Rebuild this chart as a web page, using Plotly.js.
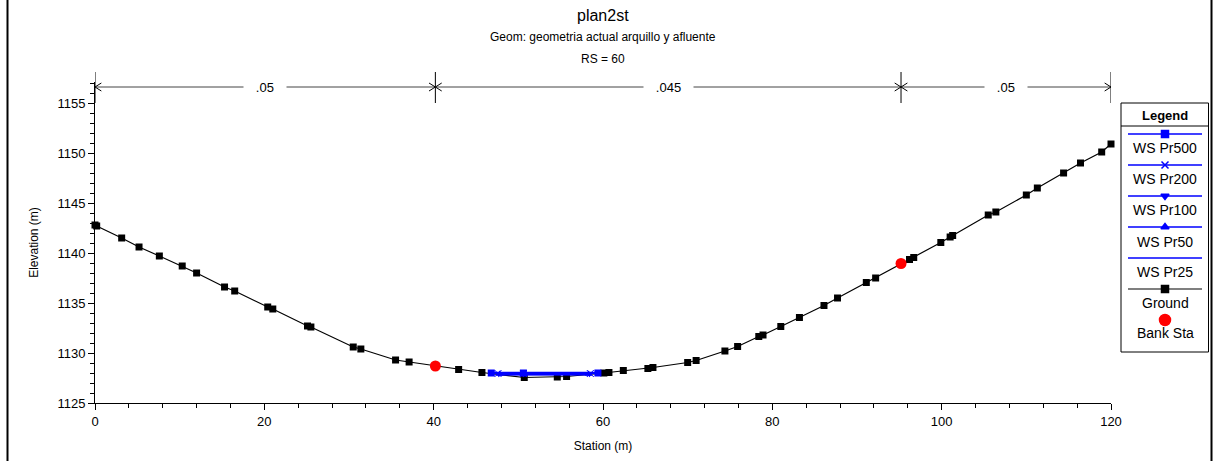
<!DOCTYPE html>
<html><head><meta charset="utf-8">
<script src="https://cdn.plot.ly/plotly-3.0.1.min.js"></script>
<style>html,body{margin:0;padding:0;background:#fff}</style>
</head><body><div id="chart" style="width:1216px;height:461px"></div>
<script>
// ---- data ----
const groundStation = [0, 0.2, 3.15, 5.2, 7.6, 10.3, 12.0, 15.3, 16.5, 20.4, 21.0, 25.1, 25.5, 30.5, 31.4, 35.5, 37.1, 40.2, 42.95, 45.7, 50.7, 54.6, 55.7, 60.1, 60.7, 62.4, 65.3, 65.9, 70.0, 71.0, 74.4, 75.9, 78.4, 78.9, 81.0, 83.2, 86.1, 87.7, 91.1, 92.2, 95.2, 96.2, 96.7, 99.9, 101.0, 101.3, 105.5, 106.4, 110.0, 111.3, 114.4, 116.4, 118.9, 120.0];
const groundElev = [1142.8, 1142.7, 1141.5, 1140.6, 1139.7, 1138.7, 1138.0, 1136.6, 1136.2, 1134.6, 1134.4, 1132.7, 1132.6, 1130.6, 1130.4, 1129.3, 1129.1, 1128.7, 1128.35, 1128.05, 1127.55, 1127.6, 1127.65, 1128.0, 1128.05, 1128.25, 1128.45, 1128.55, 1129.05, 1129.25, 1130.2, 1130.65, 1131.65, 1131.8, 1132.65, 1133.55, 1134.75, 1135.5, 1137.05, 1137.5, 1138.95, 1139.35, 1139.55, 1141.05, 1141.6, 1141.75, 1143.8, 1144.1, 1145.8, 1146.5, 1148.0, 1149.0, 1150.1, 1150.9];
const bankStation = [40.2, 95.2];
const bankElev = [1128.7, 1138.95];
const wsPr500Station = [46.8, 50.6, 59.4];
const wsPr500Elev = [1128.0, 1128.0, 1128.0];
const wsPr200Station = [47.6, 50.6, 58.5];
const wsPr200Elev = [1127.95, 1127.95, 1127.95];
const wsPr100Station = [47.7, 50.6, 58.4];
const wsPr100Elev = [1127.93, 1127.93, 1127.93];
const wsPr50Station = [47.8, 50.6, 58.3];
const wsPr50Elev = [1127.9, 1127.9, 1127.9];
const wsPr25Station = [47.9, 58.2];
const wsPr25Elev = [1127.88, 1127.88];
const nStations = [0, 40.2, 95.2, 120];
const nValues = ['.05', '.045', '.05'];
const xTickVals = [0, 20, 40, 60, 80, 100, 120];
const yTickVals = [1125, 1130, 1135, 1140, 1145, 1150, 1155];

// ---- geometry helpers (layout only) ----
const W = 1216, H = 461, ML = 95, MR = 3, MT = 82, MB = 58;
const PW = W - ML - MR, PH = H - MT - MB;
const px = p => (p - ML) / PW;          // pixel x -> paper
const py = p => (H - MB - p) / PH;      // pixel y -> paper
const BLUE = '#0000ff';
const FONT = 'Arial, "Liberation Sans", sans-serif';

const traces = [];
function ws(name, xs, ys, symbol) {
  traces.push({x: xs, y: ys, name: name, type: 'scatter', mode: symbol ? 'lines+markers' : 'lines',
    line: {color: BLUE, width: 2.5}, marker: {color: BLUE, size: 7, symbol: symbol || 'square'},
    cliponaxis: false, xaxis: 'x', yaxis: 'y', showlegend: false});
}
traces.push({x: groundStation, y: groundElev, name: 'Ground', type: 'scatter', mode: 'lines+markers',
  line: {color: '#000', width: 1.2}, marker: {color: '#000', size: 7, symbol: 'square'}, cliponaxis: false, showlegend: false});
ws('WS Pr25', wsPr25Station, wsPr25Elev, null);
ws('WS Pr50', wsPr50Station, wsPr50Elev, 'triangle-up');
ws('WS Pr100', wsPr100Station, wsPr100Elev, 'triangle-down');
ws('WS Pr200', wsPr200Station, wsPr200Elev, 'x-thin-open');
ws('WS Pr500', wsPr500Station, wsPr500Elev, 'square');
traces.push({x: bankStation, y: bankElev, name: 'Bank Sta', type: 'scatter', mode: 'markers',
  marker: {color: '#ff0000', size: 11, symbol: 'circle'}, cliponaxis: false, showlegend: false});

// ---- custom legend (on a hidden pixel-scaled axis pair) ----
const legendItems = [
  {name: 'WS Pr500', color: BLUE, symbol: 'square', line: true, ly: 134, ty: 148},
  {name: 'WS Pr200', color: BLUE, symbol: 'x-thin-open', line: true, ly: 165, ty: 179},
  {name: 'WS Pr100', color: BLUE, symbol: 'triangle-down', line: true, ly: 196, ty: 210},
  {name: 'WS Pr50', color: BLUE, symbol: 'triangle-up', line: true, ly: 227, ty: 242},
  {name: 'WS Pr25', color: BLUE, symbol: null, line: true, ly: 258, ty: 272},
  {name: 'Ground', color: '#000', symbol: 'square', line: true, ly: 289, ty: 303},
  {name: 'Bank Sta', color: '#ff0000', symbol: 'circle', line: false, ly: 320, ty: 333}
];
const annotations = [];
legendItems.forEach(it => {
  if (it.line) traces.push({x: [1128, 1202], y: [it.ly, it.ly], mode: 'lines', xaxis: 'x2', yaxis: 'y2',
    line: {color: it.color, width: it.color === BLUE ? 1.5 : 1.2}, showlegend: false, hoverinfo: 'skip'});
  if (it.symbol) traces.push({x: [1165], y: [it.ly], mode: 'markers', xaxis: 'x2', yaxis: 'y2',
    marker: {color: it.color, symbol: it.symbol, size: it.symbol === 'circle' ? 11 : 7, line: {color: it.color, width: 1.5}},
    showlegend: false, hoverinfo: 'skip'});
  annotations.push({xref: 'x2', yref: 'y2', x: 1165, y: it.ty, text: it.name, showarrow: false,
    font: {family: FONT, size: 14, color: '#000'}, xanchor: 'center', yanchor: 'middle'});
});
annotations.push({xref: 'x2', yref: 'y2', x: 1165, y: 115, text: '<b>Legend</b>', showarrow: false,
  font: {family: FONT, size: 13, color: '#000'}, xanchor: 'center', yanchor: 'middle'});

// ---- titles ----
annotations.push({xref: 'paper', yref: 'paper', x: px(603), y: py(15), text: 'plan2st', showarrow: false,
  font: {family: FONT, size: 16, color: '#000'}, xanchor: 'center', yanchor: 'middle'});
annotations.push({xref: 'paper', yref: 'paper', x: px(603), y: py(37), text: 'Geom: geometria actual arquillo y afluente', showarrow: false,
  font: {family: FONT, size: 12, color: '#000'}, xanchor: 'center', yanchor: 'middle'});
annotations.push({xref: 'paper', yref: 'paper', x: px(603), y: py(59), text: 'RS = 60', showarrow: false,
  font: {family: FONT, size: 12, color: '#000'}, xanchor: 'center', yanchor: 'middle'});

// ---- n-value bar ----
const shapes = [];
const arrowY = py(87), dxA = 0.75, dyA = 4 / PH;
nStations.forEach(s => shapes.push({type: 'line', xref: 'x', yref: 'paper', x0: s, x1: s, y0: py(72), y1: py(103),
  line: {color: '#000', width: 1}}));
for (let i = 0; i < nValues.length; i++) {
  const a = nStations[i], b = nStations[i + 1];
  shapes.push({type: 'line', xref: 'x', yref: 'paper', x0: a, x1: b, y0: arrowY, y1: arrowY, line: {color: '#444', width: 1}});
  shapes.push({type: 'path', xref: 'x', yref: 'paper', path: `M ${a + dxA},${arrowY + dyA} L ${a},${arrowY} L ${a + dxA},${arrowY - dyA}`, line: {color: '#000', width: 1}});
  shapes.push({type: 'path', xref: 'x', yref: 'paper', path: `M ${b - dxA},${arrowY + dyA} L ${b},${arrowY} L ${b - dxA},${arrowY - dyA}`, line: {color: '#000', width: 1}});
  annotations.push({xref: 'x', yref: 'paper', x: (a + b) / 2, y: arrowY, text: nValues[i], showarrow: false,
    bgcolor: '#fff', borderpad: 1, font: {family: FONT, size: 13, color: '#000'}, xanchor: 'center', yanchor: 'middle',
    text: '&nbsp;&nbsp;&nbsp;' + nValues[i] + '&nbsp;&nbsp;&nbsp;'});
}
// legend box + separator
shapes.push({type: 'rect', xref: 'x2', yref: 'y2', x0: 1121, x1: 1208.5, y0: 103, y1: 352, line: {color: '#000', width: 1}});
shapes.push({type: 'line', xref: 'x2', yref: 'y2', x0: 1121, x1: 1208.5, y0: 126, y1: 126, line: {color: '#000', width: 1}});
// outer frame lines
shapes.push({type: 'line', xref: 'paper', yref: 'paper', x0: px(7.5), x1: px(7.5), y0: py(470), y1: py(-10), line: {color: '#000', width: 2}});
shapes.push({type: 'line', xref: 'paper', yref: 'paper', x0: px(1211.5), x1: px(1211.5), y0: py(470), y1: py(-10), line: {color: '#000', width: 2}});

const axisCommon = {showgrid: false, zeroline: false, showline: true, linecolor: '#000', linewidth: 1,
  ticks: 'outside', tickcolor: '#000', ticklen: 6, tickwidth: 1, tickfont: {family: FONT, size: 13, color: '#000'}};
const layout = {
  width: W, height: H, margin: {l: ML, r: MR, t: MT, b: MB},
  paper_bgcolor: '#fff', plot_bgcolor: '#fff', showlegend: false,
  font: {family: FONT},
  xaxis: Object.assign({}, axisCommon, {domain: [0, (1111 - ML) / PW], range: [0, 120], tickvals: xTickVals,
    minor: {dtick: 4, ticks: 'outside', ticklen: 4, tickcolor: '#000'}, anchor: 'y',
    title: {text: 'Station (m)', font: {family: FONT, size: 12, color: '#000'}, standoff: 14}}),
  yaxis: Object.assign({}, axisCommon, {range: [1125, 1157.1], tickvals: yTickVals,
    minor: {dtick: 1, ticks: 'outside', ticklen: 4, tickcolor: '#000'}, anchor: 'x',
    title: {text: 'Elevation (m)', font: {family: FONT, size: 12, color: '#000'}, standoff: 16}}),
  xaxis2: {domain: [(1117 - ML) / PW, 1], range: [1117, 1213], visible: false, anchor: 'y2', fixedrange: true},
  yaxis2: {domain: [0, 1], range: [403, 82], visible: false, anchor: 'x2', fixedrange: true},
  shapes: shapes, annotations: annotations
};
Plotly.newPlot('chart', traces, layout, {staticPlot: true, displayModeBar: false});
</script></body></html>
